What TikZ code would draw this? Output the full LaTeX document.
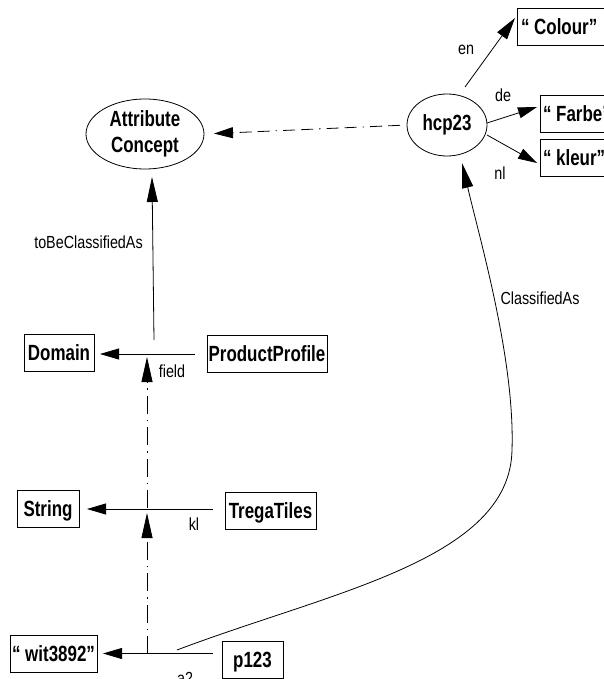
\documentclass[tikz,border=0pt]{standalone}
\usepackage{fontspec}
\setmainfont{Liberation Sans}
\usetikzlibrary{arrows.meta,shapes.geometric}

% condensed text for concept/literal names and for edge labels
\newcommand{\bnarrow}[1]{\scalebox{0.77}[1]{#1}}
\newcommand{\lnarrow}[1]{\scalebox{0.82}[1]{#1}}

\begin{document}
\begin{tikzpicture}[x=1pt,y=-1pt,
  every node/.style={inner sep=0pt, outer sep=0pt},
  concept/.style={ellipse, draw, line width=0.8pt,
    font=\fontsize{22}{26}\selectfont\bfseries, align=center},
  literal/.style={rectangle, draw, line width=0.8pt, minimum height=37pt,
    text height=15.8pt, text depth=0pt,
    font=\fontsize{22}{26}\selectfont\bfseries},
  lbl/.style={font=\fontsize{17.5}{20}\selectfont},
  rel/.style={line width=0.8pt},
  htip/.style={-{Triangle[length=19pt,width=11pt]}},
  vtip/.style={-{Triangle[length=25pt,width=11pt]}},
  dtip/.style={-{Triangle[length=22pt,width=12pt]}},
  metah/.style={dash pattern=on 12pt off 6pt on 12pt off 6pt on 1.5pt off 6pt},
  metav/.style={dash pattern=on 18pt off 6pt on 1.5pt off 6pt},
]
\useasboundingbox (0,0) rectangle (604,679);

% concepts
\node[concept, minimum width=118pt, minimum height=70pt] (attr) at (145,134)
  {\bnarrow{Attribute}\\\bnarrow{Concept}};
\node[concept, minimum width=80pt, minimum height=62pt] (hcp) at (447,125)
  {\bnarrow{hcp23}};

% language literals
\node[literal, anchor=west, inner xsep=4pt] (colour) at (517,26.5)
  {\bnarrow{“ Colour”}\hspace*{15pt}};
\node[literal, anchor=west, inner xsep=3pt] (farbe) at (540,113.5)
  {\bnarrow{“ Farbe”}\hspace*{10pt}};
\node[literal, anchor=west, inner xsep=3pt] (kleur) at (540,158)
  {\bnarrow{“ kleur”}\hspace*{6pt}};

% classes and instances
\node[literal, minimum width=70pt] (dom) at (59,352.5) {\bnarrow{Domain}};
\node[literal, minimum width=120pt] (pp) at (267,354) {\bnarrow{ProductProfile}};
\node[literal, minimum width=62pt] (str) at (48,509) {\bnarrow{String}};
\node[literal, minimum width=91pt] (tt) at (270.5,510.5) {\bnarrow{TregaTiles}};
\node[literal, minimum width=87pt] (wit) at (53.5,653.5) {\bnarrow{“ wit3892”}};
\node[literal, minimum width=61pt] (p) at (252.5,659.5) {\bnarrow{p123}};

% points on the relation edges
\coordinate (fieldA) at (154,353);
\coordinate (fieldmid) at (147,353);
\coordinate (klmid) at (147,508);
\coordinate (a2mid) at (147,654);
\coordinate (a2src) at (177,650);

% relations between instances
\draw[rel, htip, shorten <=12pt, shorten >=6pt] (pp.west) -- (pp.west -| dom.east);
\draw[rel, htip, shorten <=12pt, shorten >=8pt] (tt.west |- str.east) -- (str.east);
\draw[rel, htip, shorten <=9pt, shorten >=6pt] (p.west |- wit.east) -- (wit.east);

% meta links between edges
\draw[rel, metav, vtip, shorten >=5pt] (a2mid) -- (klmid);
\draw[rel, metav, vtip, shorten >=4pt] (klmid) -- (fieldmid);
\draw[rel, vtip] ([yshift=13pt]fieldA) -- ([xshift=7pt,yshift=-8pt]attr.south);
\draw[rel, metah, htip, shorten <=7pt, shorten >=10pt] (hcp.west) -- (attr.east);

% classification curve
\draw[rel, vtip] (a2src) .. controls (330,592) and (510,560) .. (512,450)
  .. controls (515,360) and (480,240) .. ([xshift=15pt,yshift=-7pt]hcp.south);

% translations
\draw[rel, dtip] ([xshift=18pt,yshift=7pt]hcp.north) -- ([xshift=-2pt,yshift=8.5pt]colour.west);
\draw[rel, htip] ([yshift=2pt]hcp.east) -- ([xshift=-3pt,yshift=6.5pt]farbe.west);
\draw[rel, htip] ([yshift=-10pt]hcp.east) -- ([xshift=-3pt,yshift=-5pt]kleur.west);

% edge labels
\node[lbl] (l1) at (88.5,242) {\lnarrow{toBeClassifiedAs}};
\node[lbl] (l2) at (172,371) {\lnarrow{field}};
\node[lbl] (l3) at (194,524) {\lnarrow{kl}};
\node[lbl] (l4) at (185,678) {\lnarrow{a2}};
\node[lbl] (l5) at (540,298) {\lnarrow{ClassifiedAs}};
\node[lbl] (l6) at (466,50) {\lnarrow{en}};
\node[lbl] (l7) at (503,95) {\lnarrow{de}};
\node[lbl] (l8) at (500,173) {\lnarrow{nl}};
\end{tikzpicture}
\end{document}
